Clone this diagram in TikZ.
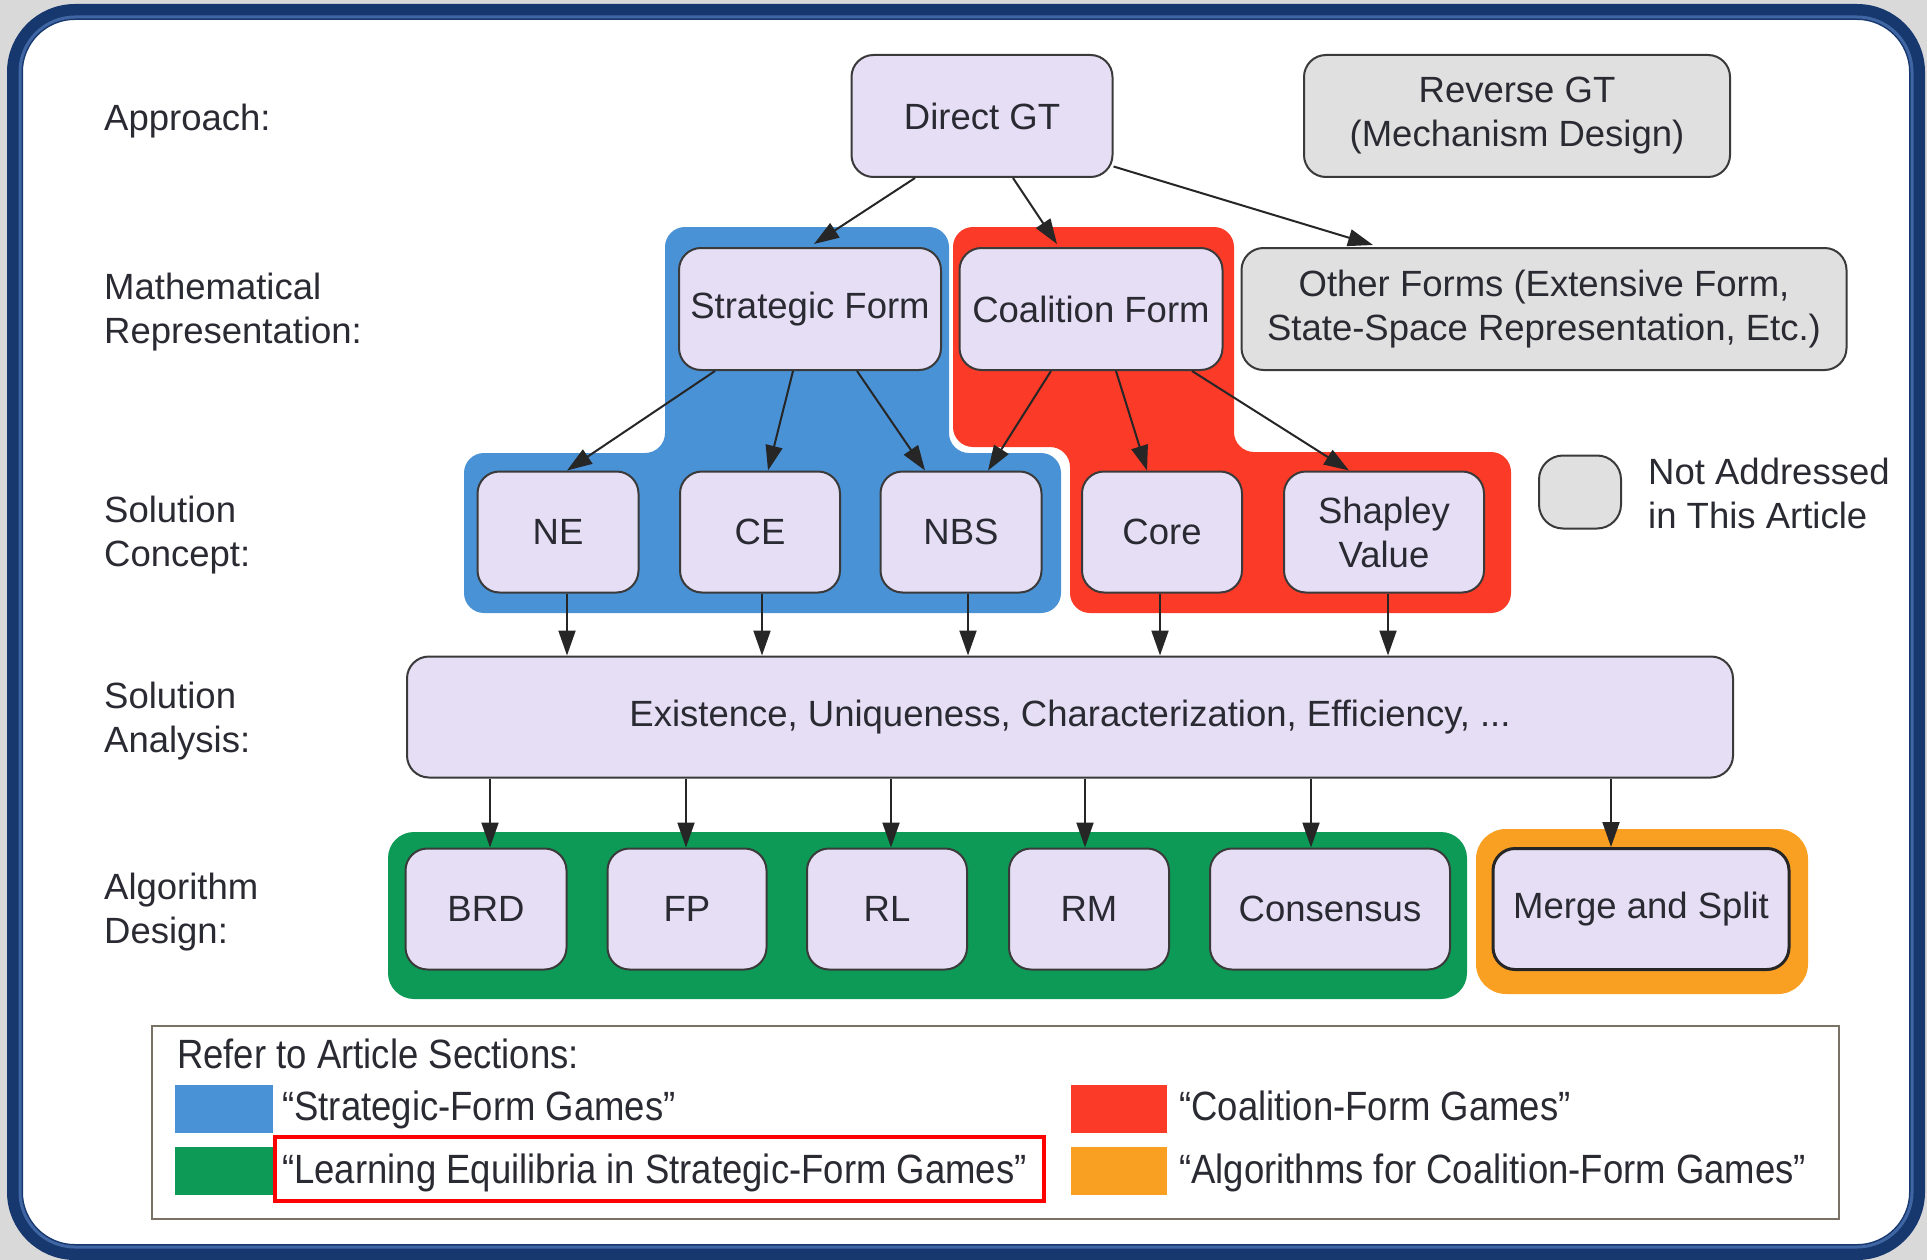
\documentclass[tikz,border=0pt]{standalone}
\usepackage{fontspec}
\setmainfont{Liberation Sans}
\usetikzlibrary{arrows.meta}
\definecolor{navy}{HTML}{17386E}
\definecolor{navylight}{HTML}{3F66A3}
\definecolor{bgc}{HTML}{D9D9D9}
\definecolor{lav}{HTML}{E6DEF4}
\definecolor{grayn}{HTML}{E0E0E0}
\definecolor{sfblue}{HTML}{4A92D6}
\definecolor{cfred}{HTML}{FB3A28}
\definecolor{lgreen}{HTML}{0D9A56}
\definecolor{aorange}{HTML}{F9A023}
\definecolor{txt}{HTML}{2A2A33}
\definecolor{edgec}{HTML}{3A3A3A}
\definecolor{legedge}{HTML}{7A7264}
\newcommand{\legstretch}[1]{\scalebox{1}[1.12]{#1}}
\begin{document}
\begin{tikzpicture}[x=1pt,y=-1pt,
  every node/.style={font=\fontsize{36.5}{44}\selectfont, text=txt},
  gnode/.style={draw=edgec, line width=2pt, fill=lav, rounded corners=22pt, minimum height=121pt, inner sep=0pt, align=center},
  graynode/.style={gnode, fill=grayn},
  lbl/.style={anchor=west, align=left, inner sep=0pt},
  legtxt/.style={anchor=base west, inner sep=0pt},
  conn/.style={draw=black!85, line width=2pt, -{Triangle[length=25pt,width=17pt]}},
]
\useasboundingbox (0,0) rectangle (1927,1260);
% frame
\fill[bgc] (0,0) rectangle (1927,1260);
\draw[navy, line width=16pt, fill=white, rounded corners=60pt] (15,12) rectangle (1917,1252);
\draw[navylight, line width=3pt, rounded corners=55pt] (20,17) rectangle (1912,1247);

% group regions
\fill[sfblue, rounded corners=20pt] (800,227) -- (949,227) -- (949,453) -- (1061,453) -- (1061,613) -- (464,613) -- (464,453) -- (665,453) -- (665,227) -- cycle;
\fill[cfred, rounded corners=20pt] (1100,227) -- (1234,227) -- (1234,452) -- (1511,452) -- (1511,613) -- (1070,613) -- (1070,447) -- (953,447) -- (953,227) -- cycle;
\fill[lgreen, rounded corners=26pt] (388,832) rectangle (1467,999);
\fill[aorange, rounded corners=30pt] (1476,829) rectangle (1808,994);

% row labels
\node[lbl, anchor=base west] (lapp) at (104,131) {Approach:};
\node[lbl] (lmath) at (104,312.5) {Mathematical\\Representation:};
\node[lbl] (lsc) at (104,535) {Solution\\Concept:};
\node[lbl] (lsa) at (104,721.5) {Solution\\Analysis:};
\node[lbl] (lad) at (104,912.5) {Algorithm\\Design:};

% nodes
\node[gnode, minimum width=261pt, minimum height=122pt] (DGT) at (982,116) {Direct GT};
\node[graynode, minimum width=426pt, minimum height=122pt] (RGT) at (1517,116) {Reverse GT\\(Mechanism Design)};
\node[gnode, minimum width=262pt, minimum height=122pt] (SF) at (810,309) {Strategic Form};
\node[gnode, minimum width=263pt, minimum height=122pt] (CF) at (1091,309) {Coalition Form};
\node[graynode, minimum width=605pt, minimum height=122pt] (OF) at (1544,309) {Other Forms (Extensive Form,\\State-Space Representation, Etc.)};

\node[gnode, minimum width=161pt] (NE) at (558,532) {NE};
\node[gnode, minimum width=160pt] (CE) at (760,532) {CE};
\node[gnode, minimum width=161pt] (NBS) at (961,532) {NBS};
\node[gnode, minimum width=160pt] (Core) at (1162,532) {Core};
\node[gnode, minimum width=200pt] (SV) at (1384,532) {Shapley\\Value};

\node[graynode, minimum width=82pt, minimum height=73pt, rounded corners=24pt] (NA) at (1580,492) {};
\node[lbl] (NAt) at (1648,493) {Not Addressed\\in This Article};

\node[gnode, minimum width=1326pt] (SA) at (1070,717) {Existence, Uniqueness, Characterization, Efficiency, ...};

\node[gnode, minimum width=161pt] (BRD) at (486,909) {BRD};
\node[gnode, minimum width=159pt] (FP) at (687,909) {FP};
\node[gnode, minimum width=160pt] (RL) at (887,909) {RL};
\node[gnode, minimum width=160pt] (RM) at (1089,909) {RM};
\node[gnode, minimum width=240pt] (CO) at (1330,909) {Consensus};
\node[gnode, minimum width=296pt, line width=3pt, draw=black!85] (MS) at (1641,909) {Merge and Split};

% connectors level 1 -> 2
\draw[conn] ([xshift=-67pt]DGT.south) -- ([xshift=4pt,yshift=3pt]SF.north);
\draw[conn] ([xshift=31pt]DGT.south) -- ([xshift=-34pt,yshift=3pt]CF.north);
\draw[conn] (DGT.-21.6) -- ([xshift=-171pt,yshift=2pt]OF.north);
% level 2 -> 3
\draw[conn] ([xshift=-95pt]SF.south) -- ([xshift=9pt]NE.north);
\draw[conn] ([xshift=-17pt]SF.south) -- ([xshift=8pt]CE.north);
\draw[conn] ([xshift=47pt]SF.south) -- ([xshift=-36pt]NBS.north);
\draw[conn] ([xshift=-40pt]CF.south) -- ([xshift=27pt]NBS.north);
\draw[conn] ([xshift=25pt]CF.south) -- ([xshift=-15pt]Core.north);
\draw[conn] ([xshift=101pt]CF.south) -- ([xshift=-35pt]SV.north);
% level 3 -> 4
\draw[conn] ([xshift=9pt]NE.south) -- ([xshift=9pt]NE.south |- SA.north);
\draw[conn] ([xshift=2pt]CE.south) -- ([xshift=2pt]CE.south |- SA.north);
\draw[conn] ([xshift=7pt]NBS.south) -- ([xshift=7pt]NBS.south |- SA.north);
\draw[conn] ([xshift=-2pt]Core.south) -- ([xshift=-2pt]Core.south |- SA.north);
\draw[conn] ([xshift=4pt]SV.south) -- ([xshift=4pt]SV.south |- SA.north);
% level 4 -> 5
\draw[conn] ([xshift=4pt]BRD.north |- SA.south) -- ([xshift=4pt]BRD.north);
\draw[conn] ([xshift=-1pt]FP.north |- SA.south) -- ([xshift=-1pt]FP.north);
\draw[conn] ([xshift=4pt]RL.north |- SA.south) -- ([xshift=4pt]RL.north);
\draw[conn] ([xshift=-4pt]RM.north |- SA.south) -- ([xshift=-4pt]RM.north);
\draw[conn] ([xshift=-19pt]CO.north |- SA.south) -- ([xshift=-19pt]CO.north);
\draw[conn] ([xshift=-30pt]MS.north |- SA.south) -- ([xshift=-30pt]MS.north);

% legend
\draw[legedge, line width=2pt] (152,1026) rectangle (1839,1219);
\node[legtxt] (lgt) at (177,1068) {\legstretch{Refer to Article Sections:}};
\fill[sfblue] (175,1085) rectangle (273,1133);
\fill[lgreen] (175,1147) rectangle (273,1195);
\fill[cfred] (1071,1085) rectangle (1167,1133);
\fill[aorange] (1071,1147) rectangle (1167,1195);
\node[legtxt] (lg1) at (282,1120) {\legstretch{“Strategic-Form Games”}};
\node[legtxt] (lg2) at (282,1183) {\legstretch{“Learning Equilibria in Strategic-Form Games”}};
\node[legtxt] (lg3) at (1179,1120) {\legstretch{“Coalition-Form Games”}};
\node[legtxt] (lg4) at (1179,1183) {\legstretch{“Algorithms for Coalition-Form Games”}};
\draw[red, line width=4.5pt] (275,1137) rectangle (1044,1201);
\end{tikzpicture}
\end{document}
